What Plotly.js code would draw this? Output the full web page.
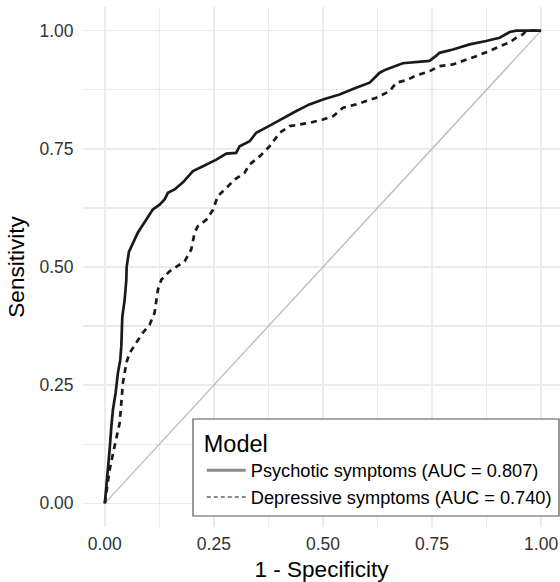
<!DOCTYPE html>
<html>
<head>
<meta charset="utf-8">
<script src="https://cdn.plot.ly/plotly-3.0.1.min.js"></script>
<style>html,body{margin:0;padding:0;background:#fff;}#chart{width:560px;height:582px;}</style>
</head>
<body>
<div id="chart"></div>
<script>
const psyFPR = [0,0.003,0.0071,0.011,0.0149,0.0186,0.0248,0.030,0.0355,0.0378,0.0401,0.0454,0.0493,0.050,0.0552,0.0607,0.0683,0.0759,0.0873,0.1027,0.1102,0.1256,0.137,0.1446,0.160,0.179,0.202,0.225,0.2556,0.2785,0.301,0.309,0.332,0.347,0.362,0.378,0.439,0.469,0.500,0.538,0.576,0.607,0.630,0.645,0.683,0.744,0.760,0.767,0.798,0.836,0.874,0.905,0.928,0.943,1.0];
const psyTPR = [0,0.028,0.0706,0.113,0.162,0.198,0.234,0.276,0.304,0.332,0.395,0.430,0.473,0.5,0.532,0.544,0.558,0.573,0.590,0.611,0.622,0.632,0.643,0.657,0.664,0.679,0.703,0.713,0.727,0.740,0.7415,0.7555,0.766,0.784,0.791,0.799,0.830,0.844,0.8545,0.865,0.879,0.890,0.911,0.918,0.931,0.936,0.947,0.953,0.960,0.971,0.978,0.985,0.997,1.0,1.0];
const depFPR = [0,0.004,0.011,0.018,0.0264,0.034,0.0378,0.0415,0.0493,0.0568,0.0722,0.0873,0.1027,0.114,0.1217,0.1295,0.1485,0.171,0.183,0.198,0.206,0.213,0.2326,0.248,0.259,0.2785,0.2975,0.320,0.332,0.355,0.378,0.401,0.424,0.469,0.500,0.523,0.546,0.576,0.622,0.653,0.668,0.691,0.714,0.744,0.767,0.798,0.821,0.851,0.882,0.905,0.928,0.943,0.958,0.966,1.0];
const depTPR = [0,0.028,0.0706,0.102,0.141,0.170,0.2125,0.255,0.297,0.318,0.340,0.361,0.378,0.403,0.452,0.473,0.491,0.505,0.512,0.537,0.573,0.586,0.600,0.621,0.650,0.667,0.685,0.699,0.717,0.734,0.7555,0.784,0.798,0.805,0.812,0.819,0.837,0.844,0.858,0.872,0.890,0.895,0.9055,0.914,0.925,0.9285,0.9355,0.946,0.957,0.967,0.975,0.985,0.992,1.0,1.0];
const diagonal = [0, 1];
const tickVals = [0, 0.25, 0.5, 0.75, 1];
const tickLabels = ['0.00', '0.25', '0.50', '0.75', '1.00'];
const minorVals = [0.125, 0.375, 0.625, 0.875];
const seriesNames = ['Psychotic symptoms (AUC = 0.807)', 'Depressive symptoms (AUC = 0.740)'];

const font = 'Liberation Sans, Arial, Helvetica, sans-serif';
const traces = [
  {x: diagonal, y: diagonal, mode: 'lines', line: {color: '#bdbdbd', width: 1.4}, showlegend: false, hoverinfo: 'skip'},
  {x: depFPR, y: depTPR, mode: 'lines', line: {color: '#1a1a1a', width: 2.7, dash: '6px,5px'}, showlegend: false},
  {x: psyFPR, y: psyTPR, mode: 'lines', line: {color: '#1a1a1a', width: 2.7}, showlegend: false},
  {x: [null], y: [null], mode: 'lines', name: seriesNames[0], line: {color: '#8a8a8a', width: 3}},
  {x: [null], y: [null], mode: 'lines', name: seriesNames[1], line: {color: '#8a8a8a', width: 2, dash: '4px,3px'}}
];

function axis(title, range, ticklen) {
  return {
    range: range,
    tickvals: tickVals, ticktext: tickLabels,
    tickfont: {family: font, size: 17.5, color: '#333'},
    showgrid: true, gridcolor: '#ebebeb', gridwidth: 1.5,
    minor: {tickvals: minorVals, showgrid: true, gridcolor: '#ebebeb', gridwidth: 1.2},
    zeroline: false, showline: false,
    ticks: 'outside', ticklen: ticklen, tickcolor: 'rgba(0,0,0,0)',
    title: {text: title, font: {family: font, size: 22.5, color: '#000'}, standoff: 8},
    fixedrange: true
  };
}

const layout = {
  width: 560, height: 582,
  margin: {l: 83, r: 0, t: 7, b: 55, pad: 0},
  paper_bgcolor: '#fff', plot_bgcolor: '#fff',
  font: {family: font},
  xaxis: axis('1 - Specificity', [-0.05, 1.0433], 1),
  yaxis: axis('Sensitivity', [-0.05, 1.05], 5),
  showlegend: true,
  legend: {
    x: 0.249, y: 0.203, xanchor: 'left', yanchor: 'top',
    bgcolor: 'rgba(255,255,255,1)', bordercolor: 'rgba(0,0,0,0)', borderwidth: 0,
    font: {family: font, size: 18.2, color: '#000'},
    title: {text: 'Model', font: {family: font, size: 23.5, color: '#000'}},
    itemwidth: 39,
    tracegroupgap: 0
  },
  shapes: [
    {type: 'rect', xref: 'paper', yref: 'paper', x0: (193 - 83) / 477, x1: (559 - 83) / 477, y0: (527 - 516) / 520, y1: (527 - 419) / 520,
     line: {color: '#555', width: 1.2}, fillcolor: 'rgba(255,255,255,1)', layer: 'above'}
  ]
};

Plotly.newPlot('chart', traces, layout, {displayModeBar: false, staticPlot: true});
</script>
</body>
</html>
